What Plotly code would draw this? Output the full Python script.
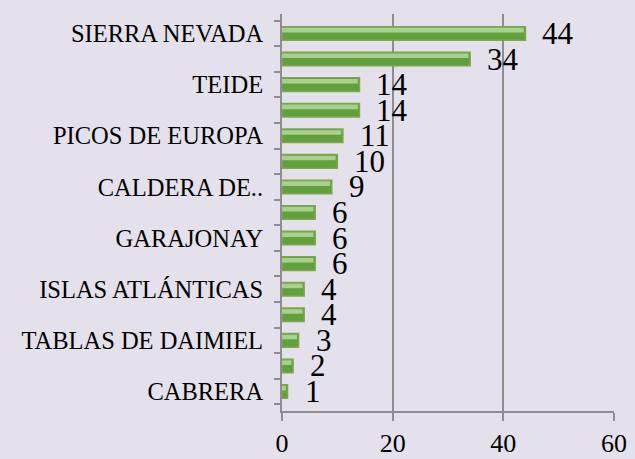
import plotly.graph_objects as go

categories = ["SIERRA NEVADA", "ORDESA Y MONTE PERDIDO", "TEIDE", "DOÑANA", "PICOS DE EUROPA",
              "AIGÜESTORTES", "CALDERA DE TABURIENTE", "TIMANFAYA", "GARAJONAY", "CABAÑEROS",
              "ISLAS ATLÁNTICAS", "MONFRAGÜE", "TABLAS DE DAIMIEL", "SIERRA DE GUADARRAMA", "CABRERA"]
values = [44, 34, 14, 14, 11, 10, 9, 6, 6, 6, 4, 4, 3, 2, 1]
tick_labels = ["SIERRA NEVADA", "", "TEIDE", "", "PICOS DE EUROPA", "", "CALDERA DE..", "",
               "GARAJONAY", "", "ISLAS ATLÁNTICAS", "", "TABLAS DE DAIMIEL", "", "CABRERA"]
x_ticks = [0, 20, 40, 60]

BG = "#E4E1ED"
GRID = "#8E8E8E"
FONT = "Liberation Serif, Times New Roman, serif"

fig = go.Figure()
fig.add_trace(go.Bar(
    x=values, y=categories, orientation="h", width=0.53,
    marker=dict(color="#62A03E", line=dict(color="#7CA84C", width=1.5)),
    hoverinfo="x+y",
))
fig.add_trace(go.Bar(
    x=[v - 0.3 for v in values], y=categories, orientation="h", width=0.18, offset=-0.22,
    marker=dict(color="#A8D08F", line=dict(width=0)),
    hoverinfo="skip",
))

annotations = []
for c, v in zip(categories, values):
    annotations.append(dict(
        x=v, y=c, text=str(v), showarrow=False, xanchor="left", yanchor="middle",
        xshift=15, yshift=0, font=dict(family=FONT, size=31, color="#000000"),
    ))

fig.update_layout(
    width=635, height=459,
    margin=dict(l=282, r=21, t=14, b=48, autoexpand=False),
    paper_bgcolor=BG, plot_bgcolor=BG,
    barmode="overlay", showlegend=False,
    annotations=annotations,
    font=dict(family=FONT, color="#000000"),
)
fig.update_xaxes(
    range=[0, 60], tickvals=x_ticks, showgrid=True, gridcolor=GRID, gridwidth=2,
    showline=True, linecolor=GRID, linewidth=2, ticks="outside", ticklen=8,
    tickcolor=GRID, tickwidth=2, zeroline=False, tickfont=dict(size=26, family=FONT),
    ticklabelstandoff=0, automargin=False,
)
fig.update_yaxes(
    type="category", categoryorder="array", categoryarray=categories, autorange="reversed",
    tickvals=categories, ticktext=tick_labels, tickson="boundaries",
    showline=True, linecolor=GRID, linewidth=2, ticks="outside", ticklen=6,
    tickcolor=GRID, tickwidth=2, showgrid=False, tickfont=dict(size=24.5, family=FONT),
    ticklabelstandoff=12, automargin=False,
)

fig.write_html("out.html", config={"displayModeBar": False},
               post_script="document.body.style.margin='0';")
